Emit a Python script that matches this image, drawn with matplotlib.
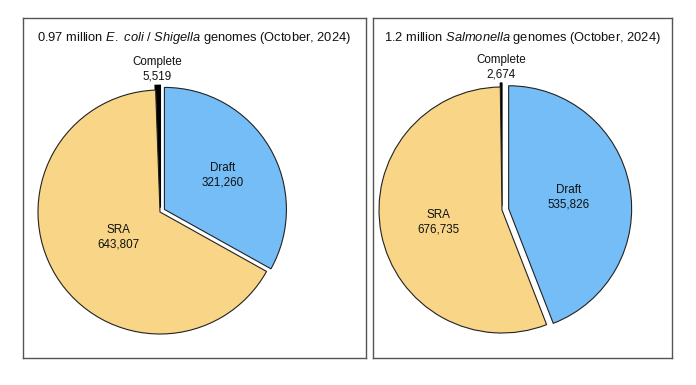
import matplotlib
matplotlib.use("Agg")
import matplotlib.pyplot as plt
import numpy as np

plt.rcParams['font.family'] = ['Liberation Sans', 'DejaVu Sans']
plt.rcParams['mathtext.fontset'] = 'custom'
plt.rcParams['mathtext.rm'] = 'Liberation Sans'
plt.rcParams['mathtext.it'] = 'Liberation Sans:italic'

# ---- data ----
categories = ["Complete", "SRA", "Draft"]
ecoli_values = [5519, 643807, 321260]
salmonella_values = [2674, 676735, 535826]
ecoli_title = r"0.97 million $\mathit{E.\ coli}$ / $\mathit{Shigella}$ genomes (October, 2024)"
salmonella_title = r"1.2 million $\mathit{Salmonella}$ genomes (October, 2024)"

colors = ["#000000", "#F8D587", "#74BDF7"]

W, H = 696, 385
fig = plt.figure(figsize=(W / 100, H / 100), dpi=100)
fig.patch.set_facecolor("white")


def panel(rect_px, values, title, center, radius, explode, label_dist, complete_lw):
    x0, y0, x1, y1 = rect_px  # image pixel coords (top-left origin)
    bw, bh = x1 - x0, y1 - y0
    ax = fig.add_axes([x0 / W, 1 - y1 / H, bw / W, bh / H])
    wedges, _ = ax.pie(values, colors=colors, startangle=90, counterclock=True,
                       explode=[e * radius for e in explode], radius=radius,
                       center=center,
                       wedgeprops=dict(edgecolor="#222222", linewidth=0.8),
                       frame=True)
    wedges[0].set_linewidth(complete_lw)
    wedges[0].set_edgecolor("#000000")
    ax.set_aspect("auto")
    ax.set_xlim(0, bw)
    ax.set_ylim(0, bh)
    ax.set_xticks([])
    ax.set_yticks([])
    for sp in ax.spines.values():
        sp.set_color("#555555")
        sp.set_linewidth(1.0)
    for w, v, name, d in zip(wedges, values, categories, label_dist):
        mid = np.deg2rad((w.theta1 + w.theta2) / 2)
        cx, cy = center
        ax.text(cx + d * radius * np.cos(mid), cy + d * radius * np.sin(mid),
                f"{name}\n{v:,}", ha="center", va="center", fontsize=8.4,
                linespacing=1.3, color="#111111")
    ax.text(0.5, 1 - 20 / bh, title, transform=ax.transAxes, ha="center",
            va="center", fontsize=9.3, color="#111111")
    return ax


panel((23, 18, 366, 358), ecoli_values, ecoli_title, center=(137, 146),
      radius=122, explode=[0.035, 0.0, 0.042], label_dist=[1.17, 0.40, 0.60],
      complete_lw=1.6)
panel((373, 18, 672, 358), salmonella_values, salmonella_title, center=(129, 148),
      radius=123, explode=[0.033, 0.0, 0.055], label_dist=[1.16, 0.53, 0.55],
      complete_lw=0.9)

fig.savefig("out.png", dpi=100, facecolor="white")
